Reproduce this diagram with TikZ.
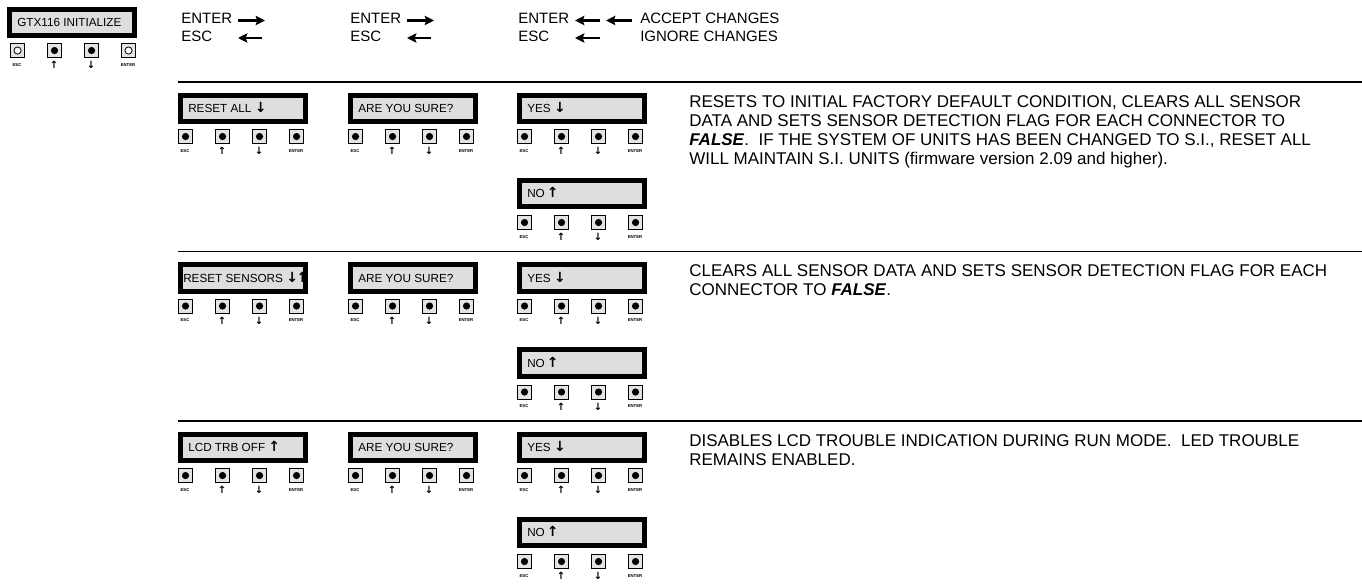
\documentclass[tikz,border=0pt]{standalone}
\usepackage{fontspec}
\setmainfont{Liberation Sans}
\newfontfamily\arrowfont{DejaVu Sans}
\usetikzlibrary{arrows.meta}
\definecolor{lcdgray}{RGB}{222,222,222}
\definecolor{keygray}{RGB}{228,228,228}
\newcommand{\dn}{{\arrowfont\bfseries\fontsize{10.5pt}{10pt}\selectfont ↓}}
\newcommand{\up}{{\arrowfont\bfseries\fontsize{10.5pt}{10pt}\selectfont ↑}}

\tikzset{
  lcdframe/.style={draw=black, line width=3.4pt, fill=lcdgray},
  lcdtext/.style={anchor=base west, inner sep=0pt, font=\fontsize{8.8pt}{10pt}\selectfont},
  keybox/.style={draw=black, line width=0.8pt, fill=keygray, minimum size=10.5pt, inner sep=0pt},
  keydot/.style={circle, fill=black, minimum size=5.4pt, inner sep=0pt},
  keyopen/.style={circle, draw=black, fill=white, line width=0.6pt, minimum size=5.4pt, inner sep=0pt},
  keylabel/.style={inner sep=0pt, font=\fontsize{3.2pt}{4pt}\selectfont\bfseries},
  keyarrow/.style={inner sep=0pt, font=\arrowfont\bfseries\fontsize{7.5pt}{8pt}\selectfont},
  hdrtext/.style={anchor=base west, inner sep=0pt, font=\fontsize{11.25pt}{13.5pt}\selectfont},
  desc/.style={anchor=north west, inner sep=0pt, align=left, font=\fontsize{12.75pt}{14.25pt}\selectfont},
  hdrarrow/.style={line width=2.1pt, -{Stealth[length=7pt, width=7pt, inset=1.2pt]}},
  rowline/.style={line width=0.9pt},
}

% display with its black frame: name, x, y, text
\newcommand{\lcdpanel}[4]{%
  \filldraw[lcdframe] (#2+2.25,#3+2.25) rectangle (#2+127.75,#3+28.75);
  \node[lcdtext] (#1) at (#2+10,#3+19.7) {#4};
}
% four keys under a display: name, x, y, dot style of ESC and ENTER
\newcommand{\keypad}[4]{%
  \foreach \k/\dx/\dotstyle/\labstyle/\lab in {esc/0/#4/keylabel/ESC, up/37/keydot/keyarrow/↑,
      down/74/keydot/keyarrow/↓, enter/111/#4/keylabel/ENTER} {
    \node[keybox, anchor=north west] (#1-\k) at (#2+\dx,#3) {};
    \node[\dotstyle] (#1-\k-dot) at (#1-\k.center) {};
    \node[\labstyle] (#1-\k-lab) at (#2+\dx+7,#3+22) {\lab};
  }
}

\begin{document}
\begin{tikzpicture}[x=0.75pt, y=-0.75pt]
    \useasboundingbox (0,0) rectangle (1362,585);

    % Start display
    \lcdpanel{gtx}{7}{7}{GTX116 INITIALIZE}
    \keypad{gtxk}{10}{43}{keyopen}

    % Key legend
    \node[hdrtext] (enter1) at (181,24) {ENTER};
    \node[hdrtext] (esc1) at (181,42) {ESC};
    \node[hdrtext] (enter2) at (350,24) {ENTER};
    \node[hdrtext] (esc2) at (350,42) {ESC};
    \node[hdrtext] (enter3) at (518,24) {ENTER};
    \node[hdrtext] (esc3) at (518,42) {ESC};
    \node[hdrtext] (accept) at (640,24) {ACCEPT CHANGES};
    \node[hdrtext] (ignore) at (640,42) {IGNORE CHANGES};

    \coordinate (e1a) at (238,20.5);
    \coordinate (e1b) at (265,20.5);
    \coordinate (s1a) at (238,38);
    \coordinate (s1b) at (262,38);
    \coordinate (e2a) at (407,20.5);
    \coordinate (e2b) at (434,20.5);
    \coordinate (s2a) at (407,38);
    \coordinate (s2b) at (431,38);
    \coordinate (e3a) at (575,20.5);
    \coordinate (e3b) at (600,20.5);
    \coordinate (e3c) at (606,20.5);
    \coordinate (e3d) at (632,20.5);
    \coordinate (s3a) at (575,38);
    \coordinate (s3b) at (600,38);

    \draw[hdrarrow] (e1a) -- (e1b);
    \draw[hdrarrow] (s1b) -- (s1a);
    \draw[hdrarrow] (e2a) -- (e2b);
    \draw[hdrarrow] (s2b) -- (s2a);
    \draw[hdrarrow] (e3b) -- (e3a);
    \draw[hdrarrow] (e3d) -- (e3c);
    \draw[hdrarrow] (s3b) -- (s3a);

    % Separators
    \foreach \y in {82,251.5,421} {
        \draw[rowline] (178,\y) -- (1362,\y);
    }

    % Reset all
    \lcdpanel{resetall}{178}{93}{RESET ALL \dn}
    \keypad{resetallk}{178}{129}{keydot}
    \lcdpanel{sure1}{348}{93}{ARE YOU SURE?}
    \keypad{sure1k}{348}{129}{keydot}
    \lcdpanel{yes1}{517}{93}{YES \dn}
    \keypad{yes1k}{517}{129}{keydot}
    \lcdpanel{no1}{517}{178}{NO\,\up}
    \keypad{no1k}{517}{215}{keydot}
    \node[desc] (desc1) at (689,95) {RESETS TO INITIAL FACTORY DEFAULT CONDITION, CLEARS ALL SENSOR\\
        DATA AND SETS SENSOR DETECTION FLAG FOR EACH CONNECTOR TO\\
        \textbf{\textit{FALSE}}.~ IF THE SYSTEM OF UNITS HAS BEEN CHANGED TO S.I., RESET ALL\\
        WILL MAINTAIN S.I. UNITS (firmware version 2.09 and higher).};

    % Reset sensors
    \filldraw[lcdframe] (178+2.25,262.5+2.25) rectangle (178+127.75,262.5+28.75);
    \node[lcdtext] (resetsens) at (183,282.2) {RESET SENSORS \dn\hspace{-1pt}\up};
    \keypad{resetsensk}{178}{298.5}{keydot}
    \lcdpanel{sure2}{348}{262.5}{ARE YOU SURE?}
    \keypad{sure2k}{348}{298.5}{keydot}
    \lcdpanel{yes2}{517}{262.5}{YES \dn}
    \keypad{yes2k}{517}{298.5}{keydot}
    \lcdpanel{no2}{517}{347.5}{NO\,\up}
    \keypad{no2k}{517}{384.5}{keydot}
    \node[desc] (desc2) at (689,264.5) {CLEARS ALL SENSOR DATA AND SETS SENSOR DETECTION FLAG FOR EACH\\
        CONNECTOR TO \textbf{\textit{FALSE}}.};

    % LCD trouble off
    \lcdpanel{lcdtrb}{178}{432}{LCD TRB OFF \up}
    \keypad{lcdtrbk}{178}{468}{keydot}
    \lcdpanel{sure3}{348}{432}{ARE YOU SURE?}
    \keypad{sure3k}{348}{468}{keydot}
    \lcdpanel{yes3}{517}{432}{YES \dn}
    \keypad{yes3k}{517}{468}{keydot}
    \lcdpanel{no3}{517}{517}{NO\,\up}
    \keypad{no3k}{517}{554}{keydot}
    \node[desc] (desc3) at (689,434) {DISABLES LCD TROUBLE INDICATION DURING RUN MODE.~ LED TROUBLE\\
        REMAINS ENABLED.};
\end{tikzpicture}
\end{document}
